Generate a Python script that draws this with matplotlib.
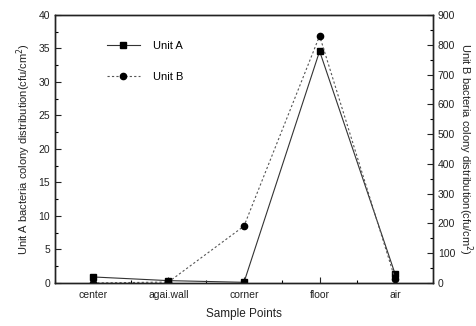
import matplotlib
matplotlib.use("Agg")
import matplotlib.pyplot as plt
from matplotlib.ticker import MultipleLocator, FixedLocator

plt.rcParams['font.family'] = ['Liberation Sans', 'DejaVu Sans']

categories = ["center", "agai.wall", "corner", "floor", "air"]
unit_a = [0.9, 0.35, 0.1, 34.6, 1.3]
unit_b = [0, 3, 191, 830, 12]

fig = plt.figure(figsize=(4.76, 3.26), dpi=100)
ax = fig.add_axes([0.1155, 0.132, 0.7942, 0.822])
ax2 = ax.twinx()

x = list(range(len(categories)))
la, = ax.plot(x, unit_a, color='#333333', lw=0.8, marker='s', ms=4.5,
              mfc='black', mec='black', label='Unit A')
lb, = ax2.plot(x, unit_b, color='#555555', lw=0.8, ls=(0, (2, 2)), marker='o', ms=4.5,
               mfc='black', mec='black', label='Unit B')

ax.set_xlim(-0.5, 4.5)
ax.set_ylim(0, 40)
ax2.set_ylim(0, 900)
ax.set_xticks(x)
ax.set_xticklabels(categories)
ax.xaxis.set_minor_locator(FixedLocator([i + 0.5 for i in range(-1, 5)]))
ax.yaxis.set_major_locator(MultipleLocator(5))
ax.yaxis.set_minor_locator(MultipleLocator(2.5))
ax2.yaxis.set_major_locator(MultipleLocator(100))
ax2.yaxis.set_minor_locator(MultipleLocator(50))

for a in (ax, ax2):
    a.tick_params(which='major', direction='in', length=4, width=0.8, labelsize=7.5, colors='#222222')
    a.tick_params(which='minor', direction='in', length=2, width=0.8)
    for s in a.spines.values():
        s.set_linewidth(1.0)
        s.set_color('#222222')
ax.tick_params(axis='x', pad=5)

ax.set_xlabel('Sample Points', fontsize=8.5, color='#222222', labelpad=6)
ax.set_ylabel('Unit A bacteria colony distribution(cfu/cm$^2$)', fontsize=8, color='#222222', labelpad=4)
ax2.set_ylabel('Unit B bacteria colony distribution(cfu/cm$^2$)', fontsize=8, color='#222222',
               rotation=270, labelpad=14)

ax.legend([la, lb], ['Unit A', 'Unit B'], loc='upper left', bbox_to_anchor=(0.11, 0.94),
          frameon=False, fontsize=8, handlelength=3, labelspacing=1.9, handletextpad=1.2)

fig.savefig('out.png', dpi=100)
